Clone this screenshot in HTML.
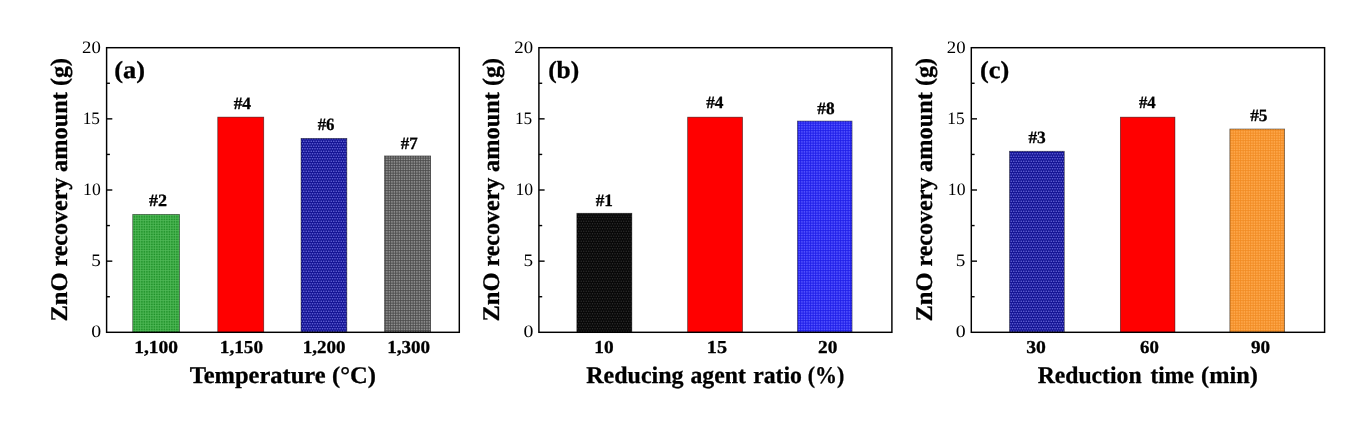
<!DOCTYPE html>
<html><head><meta charset="utf-8"><title>ZnO recovery amount</title>
<style>
html,body{margin:0;padding:0;background:#fff;}
body{width:1372px;height:423px;overflow:hidden;}
svg{display:block;font-family:"Liberation Serif",serif;fill:#000;text-rendering:geometricPrecision;}
text[font-weight=bold]{stroke:#000;stroke-width:0.3px;stroke-linejoin:round;}
</style></head><body>
<svg width="1372" height="423" viewBox="0 0 1372 423">
<defs>
<pattern id="pg" width="5" height="5" patternUnits="userSpaceOnUse"><rect width="5" height="5" fill="#20922a"/><path d="M0 0.65H5M0 3.15H5M0.65 0V5M3.15 0V5" stroke="#50b957" stroke-width="0.85" fill="none"/></pattern>
<pattern id="pn" width="5" height="5" patternUnits="userSpaceOnUse"><rect width="5" height="5" fill="#141494"/><circle cx="1.25" cy="1.25" r="0.80" fill="#6464d8"/><circle cx="3.75" cy="1.25" r="0.80" fill="#6464d8"/><circle cx="0.00" cy="3.75" r="0.80" fill="#6464d8"/><circle cx="2.50" cy="3.75" r="0.80" fill="#6464d8"/><circle cx="5.00" cy="3.75" r="0.80" fill="#6464d8"/></pattern>
<pattern id="pk" width="5" height="5" patternUnits="userSpaceOnUse"><rect width="5" height="5" fill="#949494"/><path d="M0 0.65H5M0 3.15H5M0.65 0V5M3.15 0V5" stroke="#484848" stroke-width="0.90" fill="none"/></pattern>
<pattern id="pb" width="5" height="5" patternUnits="userSpaceOnUse"><rect width="5" height="5" fill="#080808"/><circle cx="1.25" cy="1.25" r="0.65" fill="#2e2e2e"/><circle cx="3.75" cy="1.25" r="0.65" fill="#2e2e2e"/><circle cx="0.00" cy="3.75" r="0.65" fill="#2e2e2e"/><circle cx="2.50" cy="3.75" r="0.65" fill="#2e2e2e"/><circle cx="5.00" cy="3.75" r="0.65" fill="#2e2e2e"/></pattern>
<pattern id="pu" width="5" height="5" patternUnits="userSpaceOnUse"><rect width="5" height="5" fill="#5656ff"/><path d="M0 0.65H5M0 3.15H5M0.65 0V5M3.15 0V5" stroke="#1c1ce6" stroke-width="0.90" fill="none"/></pattern>
<pattern id="po" width="5" height="5" patternUnits="userSpaceOnUse"><rect width="5" height="5" fill="#ffaa4e"/><path d="M0 0.65H5M0 3.15H5M0.65 0V5M3.15 0V5" stroke="#f08a22" stroke-width="0.90" fill="none"/></pattern>
</defs>
<rect width="1372" height="423" fill="#fff"/>
<g>
<rect x="132.75" y="214.45" width="46.80" height="117.85" fill="url(#pg)" stroke="#000" stroke-opacity="0.6" stroke-width="0.7"/>
<rect x="217.75" y="117.10" width="46.00" height="215.20" fill="#ff0000" stroke="#000" stroke-opacity="0.6" stroke-width="0.7"/>
<rect x="301.05" y="138.35" width="45.80" height="193.95" fill="url(#pn)" stroke="#000" stroke-opacity="0.6" stroke-width="0.7"/>
<rect x="384.55" y="155.95" width="46.10" height="176.35" fill="url(#pk)" stroke="#000" stroke-opacity="0.6" stroke-width="0.7"/>
<text transform="translate(148.97,206.30) scale(1.0465,1.0000)" font-size="17.30" font-weight="bold">#2</text>
<text transform="translate(233.63,108.70) scale(1.0101,1.0000)" font-size="17.30" font-weight="bold">#4</text>
<text transform="translate(317.68,130.30) scale(0.9694,1.0000)" font-size="17.30" font-weight="bold">#6</text>
<text transform="translate(400.78,148.70) scale(0.9833,1.0000)" font-size="17.30" font-weight="bold">#7</text>
<text transform="translate(134.30,353.20) scale(1.0679,1.0000)" font-size="18.20" font-weight="bold">1,100</text>
<text transform="translate(219.81,353.20) scale(1.0576,1.0000)" font-size="18.20" font-weight="bold">1,150</text>
<text transform="translate(302.63,353.20) scale(1.0447,1.0000)" font-size="18.20" font-weight="bold">1,200</text>
<text transform="translate(387.13,353.20) scale(1.0473,1.0000)" font-size="18.20" font-weight="bold">1,300</text>
<rect x="106.60" y="47.70" width="352.70" height="284.60" fill="none" stroke="#000" stroke-width="1.45"/>
<line x1="106.60" y1="296.73" x2="109.90" y2="296.73" stroke="#000" stroke-width="1.4"/>
<line x1="106.60" y1="261.15" x2="112.30" y2="261.15" stroke="#000" stroke-width="1.4"/>
<line x1="106.60" y1="225.57" x2="109.90" y2="225.57" stroke="#000" stroke-width="1.4"/>
<line x1="106.60" y1="190.00" x2="112.30" y2="190.00" stroke="#000" stroke-width="1.4"/>
<line x1="106.60" y1="154.43" x2="109.90" y2="154.43" stroke="#000" stroke-width="1.4"/>
<line x1="106.60" y1="118.85" x2="112.30" y2="118.85" stroke="#000" stroke-width="1.4"/>
<line x1="106.60" y1="83.27" x2="109.90" y2="83.27" stroke="#000" stroke-width="1.4"/>
<text transform="translate(82.05,52.80) scale(1.0807,1.0000)" font-size="17.40">20</text>
<text transform="translate(82.64,123.95) scale(0.9975,1.0000)" font-size="17.40">15</text>
<text transform="translate(83.11,195.10) scale(1.0173,1.0000)" font-size="17.40">10</text>
<text transform="translate(91.14,266.25) scale(1.1063,1.0000)" font-size="17.40">5</text>
<text transform="translate(91.15,337.40) scale(1.1426,1.0000)" font-size="17.40">0</text>
<text transform="translate(114.29,78.10) scale(1.0771,1.0000)" font-size="24.50" font-weight="bold">(a)</text>
<text transform="translate(189.66,382.60) scale(1.0244,1.0000)" font-size="23.90" font-weight="bold">Temperature</text>
<text transform="translate(331.97,382.60) scale(1.0263,1.0000)" font-size="23.90" font-weight="bold">(°C)</text>
<text transform="translate(67.10,321.58) rotate(-90) scale(1.0262,1)" font-size="23.90" font-weight="bold">ZnO</text>
<text transform="translate(67.10,266.57) rotate(-90) scale(1.0049,1)" font-size="23.90" font-weight="bold">recovery</text>
<text transform="translate(67.10,171.88) rotate(-90) scale(1.0176,1)" font-size="23.90" font-weight="bold">amount</text>
<text transform="translate(67.10,85.91) rotate(-90) scale(0.9995,1)" font-size="23.90" font-weight="bold">(g)</text>
</g>
<g>
<rect x="576.85" y="213.25" width="55.00" height="119.05" fill="url(#pb)" stroke="#000" stroke-opacity="0.6" stroke-width="0.7"/>
<rect x="687.65" y="117.15" width="54.90" height="215.15" fill="#ff0000" stroke="#000" stroke-opacity="0.6" stroke-width="0.7"/>
<rect x="797.45" y="121.05" width="54.60" height="211.25" fill="url(#pu)" stroke="#000" stroke-opacity="0.6" stroke-width="0.7"/>
<text transform="translate(595.68,206.20) scale(0.9962,1.0000)" font-size="17.30" font-weight="bold">#1</text>
<text transform="translate(706.18,108.30) scale(1.0011,1.0000)" font-size="17.30" font-weight="bold">#4</text>
<text transform="translate(817.28,113.60) scale(0.9995,1.0000)" font-size="17.30" font-weight="bold">#8</text>
<text transform="translate(594.30,353.20) scale(1.0614,1.0000)" font-size="18.20" font-weight="bold">10</text>
<text transform="translate(706.83,353.20) scale(1.1114,1.0000)" font-size="18.20" font-weight="bold">15</text>
<text transform="translate(818.08,353.20) scale(1.0631,1.0000)" font-size="18.20" font-weight="bold">20</text>
<rect x="538.90" y="47.70" width="353.00" height="284.60" fill="none" stroke="#000" stroke-width="1.45"/>
<line x1="538.90" y1="296.73" x2="542.20" y2="296.73" stroke="#000" stroke-width="1.4"/>
<line x1="538.90" y1="261.15" x2="544.60" y2="261.15" stroke="#000" stroke-width="1.4"/>
<line x1="538.90" y1="225.57" x2="542.20" y2="225.57" stroke="#000" stroke-width="1.4"/>
<line x1="538.90" y1="190.00" x2="544.60" y2="190.00" stroke="#000" stroke-width="1.4"/>
<line x1="538.90" y1="154.43" x2="542.20" y2="154.43" stroke="#000" stroke-width="1.4"/>
<line x1="538.90" y1="118.85" x2="544.60" y2="118.85" stroke="#000" stroke-width="1.4"/>
<line x1="538.90" y1="83.27" x2="542.20" y2="83.27" stroke="#000" stroke-width="1.4"/>
<text transform="translate(514.35,52.80) scale(1.0807,1.0000)" font-size="17.40">20</text>
<text transform="translate(514.94,123.95) scale(0.9975,1.0000)" font-size="17.40">15</text>
<text transform="translate(515.41,195.10) scale(1.0173,1.0000)" font-size="17.40">10</text>
<text transform="translate(523.44,266.25) scale(1.1063,1.0000)" font-size="17.40">5</text>
<text transform="translate(523.45,337.40) scale(1.1426,1.0000)" font-size="17.40">0</text>
<text transform="translate(548.13,78.10) scale(1.0383,1.0000)" font-size="24.50" font-weight="bold">(b)</text>
<text transform="translate(586.27,382.60) scale(1.0034,1.0000)" font-size="23.90" font-weight="bold">Reducing</text>
<text transform="translate(690.44,382.60) scale(0.9933,1.0000)" font-size="23.90" font-weight="bold">agent</text>
<text transform="translate(753.14,382.60) scale(0.9945,1.0000)" font-size="23.90" font-weight="bold">ratio</text>
<text transform="translate(807.77,382.60) scale(0.9189,1.0000)" font-size="23.90" font-weight="bold">(%)</text>
<text transform="translate(499.40,321.58) rotate(-90) scale(1.0262,1)" font-size="23.90" font-weight="bold">ZnO</text>
<text transform="translate(499.40,266.57) rotate(-90) scale(1.0049,1)" font-size="23.90" font-weight="bold">recovery</text>
<text transform="translate(499.40,171.88) rotate(-90) scale(1.0176,1)" font-size="23.90" font-weight="bold">amount</text>
<text transform="translate(499.40,85.91) rotate(-90) scale(0.9995,1)" font-size="23.90" font-weight="bold">(g)</text>
</g>
<g>
<rect x="1009.55" y="151.25" width="54.70" height="181.05" fill="url(#pn)" stroke="#000" stroke-opacity="0.6" stroke-width="0.7"/>
<rect x="1120.35" y="117.15" width="54.60" height="215.15" fill="#ff0000" stroke="#000" stroke-opacity="0.6" stroke-width="0.7"/>
<rect x="1229.85" y="129.00" width="54.80" height="203.30" fill="url(#po)" stroke="#000" stroke-opacity="0.6" stroke-width="0.7"/>
<text transform="translate(1028.38,142.60) scale(1.0055,1.0000)" font-size="17.30" font-weight="bold">#3</text>
<text transform="translate(1138.88,108.10) scale(0.9654,1.0000)" font-size="17.30" font-weight="bold">#4</text>
<text transform="translate(1250.18,121.00) scale(1.0040,1.0000)" font-size="17.30" font-weight="bold">#5</text>
<text transform="translate(1026.16,353.20) scale(1.0810,1.0000)" font-size="18.20" font-weight="bold">30</text>
<text transform="translate(1140.09,353.20) scale(1.0339,1.0000)" font-size="18.20" font-weight="bold">60</text>
<text transform="translate(1250.88,353.20) scale(1.0516,1.0000)" font-size="18.20" font-weight="bold">90</text>
<rect x="971.30" y="47.70" width="353.30" height="284.60" fill="none" stroke="#000" stroke-width="1.45"/>
<line x1="971.30" y1="296.73" x2="974.60" y2="296.73" stroke="#000" stroke-width="1.4"/>
<line x1="971.30" y1="261.15" x2="977.00" y2="261.15" stroke="#000" stroke-width="1.4"/>
<line x1="971.30" y1="225.57" x2="974.60" y2="225.57" stroke="#000" stroke-width="1.4"/>
<line x1="971.30" y1="190.00" x2="977.00" y2="190.00" stroke="#000" stroke-width="1.4"/>
<line x1="971.30" y1="154.43" x2="974.60" y2="154.43" stroke="#000" stroke-width="1.4"/>
<line x1="971.30" y1="118.85" x2="977.00" y2="118.85" stroke="#000" stroke-width="1.4"/>
<line x1="971.30" y1="83.27" x2="974.60" y2="83.27" stroke="#000" stroke-width="1.4"/>
<text transform="translate(946.75,52.80) scale(1.0807,1.0000)" font-size="17.40">20</text>
<text transform="translate(947.34,123.95) scale(0.9975,1.0000)" font-size="17.40">15</text>
<text transform="translate(947.81,195.10) scale(1.0173,1.0000)" font-size="17.40">10</text>
<text transform="translate(955.84,266.25) scale(1.1063,1.0000)" font-size="17.40">5</text>
<text transform="translate(955.85,337.40) scale(1.1426,1.0000)" font-size="17.40">0</text>
<text transform="translate(980.00,78.10) scale(1.0739,1.0000)" font-size="24.50" font-weight="bold">(c)</text>
<text transform="translate(1037.68,382.60) scale(0.9907,1.0000)" font-size="23.90" font-weight="bold">Reduction</text>
<text transform="translate(1150.49,382.60) scale(0.9619,1.0000)" font-size="23.90" font-weight="bold">time</text>
<text transform="translate(1201.08,382.60) scale(1.0172,1.0000)" font-size="23.90" font-weight="bold">(min)</text>
<text transform="translate(931.80,321.58) rotate(-90) scale(1.0262,1)" font-size="23.90" font-weight="bold">ZnO</text>
<text transform="translate(931.80,266.57) rotate(-90) scale(1.0049,1)" font-size="23.90" font-weight="bold">recovery</text>
<text transform="translate(931.80,171.88) rotate(-90) scale(1.0176,1)" font-size="23.90" font-weight="bold">amount</text>
<text transform="translate(931.80,85.91) rotate(-90) scale(0.9995,1)" font-size="23.90" font-weight="bold">(g)</text>
</g>
</svg></body></html>
